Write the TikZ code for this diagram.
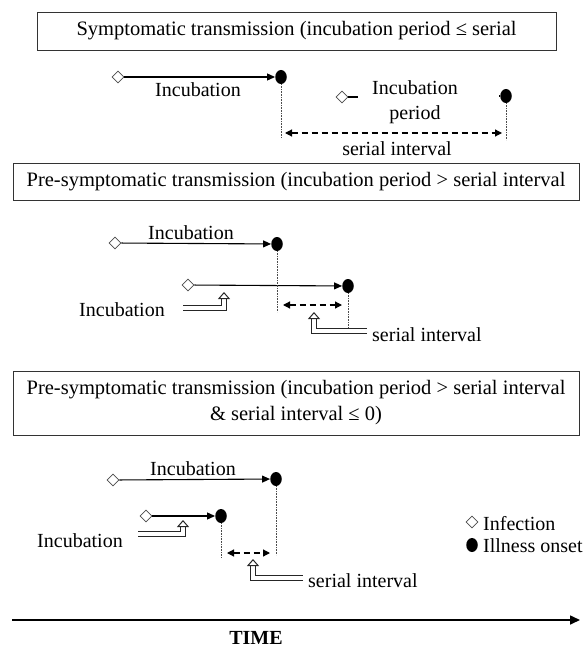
\documentclass[tikz,border=0pt]{standalone}
\usepackage{fontspec}
\setmainfont{Liberation Serif}
\usetikzlibrary{arrows.meta,shapes.geometric}
\begin{document}
\begin{tikzpicture}[x=1pt,y=-1pt,
  lbl/.style={font=\fontsize{20}{23}\selectfont, inner sep=0pt},
  titlebox/.style={draw=black!80, line width=0.9pt, font=\fontsize{20.5}{26}\selectfont, align=center, inner sep=0pt},
  inf/.style={diamond, draw=black!70, fill=white, line width=0.8pt, minimum width=12pt, minimum height=12pt, inner sep=0pt},
  ons/.style={ellipse, fill=black, minimum width=11.5pt, minimum height=14pt, inner sep=0pt},
  incarrow/.style={line width=1.1pt, -{Triangle[length=8pt,width=7pt]}},
  dotline/.style={densely dotted, line width=0.6pt, black!70},
  serarrow/.style={dash pattern=on 6pt off 4pt, line width=1.2pt, {Triangle[length=7pt,width=7pt]}-{Triangle[length=7pt,width=7pt]}},
  hollow/.style={double=white, draw=black!85, line width=1.4pt, double distance=3.4pt, -{Triangle[open,length=7pt,width=12pt,line width=1pt]}}
]
\useasboundingbox (0,0) rectangle (584,647);

% ---------- Section 1
\node[titlebox, minimum width=519pt, minimum height=38pt] (t1) at (296.5,31) {Symptomatic transmission (incubation period ≤ serial};
\node[inf] (d1) at (118,77) {};
\node[ons] (o1) at (281,77) {};
\draw[incarrow] (d1) -- (o1);
\node[lbl] (l1) at (198,90) {Incubation};
\node[inf] (d2) at (342,97) {};
\node[ons] (o2) at (506,96) {};
\coordinate (d2e) at (358,97);
\draw[line width=1.1pt] (d2) -- (d2e);
\coordinate (o2s) at (499,96);
\draw[line width=1.1pt] (o2s) -- (o2);
\node[lbl, align=center, font=\fontsize{20}{25}\selectfont] (l2) at (415,102) {Incubation\\period};
\coordinate (v1b) at (281,138);
\coordinate (v2b) at (506,140);
\draw[dotline] (o1) -- (v1b);
\draw[dotline] (o2) -- (v2b);
\coordinate (s1a) at (285,133);
\coordinate (s1b) at (502,133);
\draw[serarrow] (s1a) -- (s1b);
\node[lbl] (sl1) at (397,149) {serial interval};

% ---------- Section 2
\node[titlebox, minimum width=566pt, minimum height=37pt] (t2) at (296,181.5) {Pre-symptomatic transmission (incubation period > serial interval};
\node[inf] (d3) at (115,243) {};
\node[ons] (o3) at (277,244) {};
\draw[incarrow] (d3) -- (o3);
\node[lbl] (l3) at (191,233) {Incubation};
\node[inf] (d4) at (188,285) {};
\node[ons] (o4) at (348,286) {};
\draw[incarrow] (d4) -- (o4);
\coordinate (v3b) at (277,312);
\coordinate (v4b) at (348,328);
\draw[dotline] (o3) -- (v3b);
\draw[dotline] (o4) -- (v4b);
\coordinate (s2a) at (283,305);
\coordinate (s2b) at (342,305);
\draw[serarrow] (s2a) -- (s2b);
\node[lbl] (l4) at (122,310) {Incubation};
\coordinate (h1s) at (183,308);
\coordinate (h1c) at (224,308);
\coordinate (h1e) at (224,292);
\draw[hollow] (h1s) -- (h1c) -- (h1e);
\node[lbl, anchor=west] (sl2) at (372,335) {serial interval};
\coordinate (h2s) at (367,331);
\coordinate (h2c) at (314,331);
\coordinate (h2e) at (314,312);
\draw[hollow] (h2s) -- (h2c) -- (h2e);

% ---------- Section 3
\node[titlebox, minimum width=566pt, minimum height=64pt] (t3) at (296,403) {Pre-symptomatic transmission (incubation period > serial interval\\\& serial interval ≤ 0)};
\node[inf] (d5) at (113,480) {};
\node[ons] (o5) at (276,479) {};
\draw[incarrow] (d5) -- (o5);
\node[lbl] (l5) at (193,469) {Incubation};
\node[inf] (d6) at (146,516) {};
\node[ons] (o6) at (221,516) {};
\draw[incarrow] (d6) -- (o6);
\coordinate (v5b) at (276,555);
\coordinate (v6b) at (221,557);
\draw[dotline] (o5) -- (v5b);
\draw[dotline] (o6) -- (v6b);
\coordinate (s3a) at (227,553);
\coordinate (s3b) at (270,553);
\draw[serarrow] (s3a) -- (s3b);
\node[lbl] (l6) at (80,541) {Incubation};
\coordinate (h3s) at (138,534);
\coordinate (h3c) at (183,534);
\coordinate (h3e) at (183,520);
\draw[hollow] (h3s) -- (h3c) -- (h3e);
\node[lbl, anchor=west] (sl3) at (308,581) {serial interval};
\coordinate (h4s) at (303,578);
\coordinate (h4c) at (253,578);
\coordinate (h4e) at (253,559);
\draw[hollow] (h4s) -- (h4c) -- (h4e);

% legend
\node[inf] (ld) at (472,522) {};
\node[lbl, anchor=west] (ldl) at (483,524) {Infection};
\node[ons] (lo) at (472,545) {};
\node[lbl, anchor=west] (lol) at (483,546) {Illness onset};

% time axis
\coordinate (ta) at (12,620);
\coordinate (tb) at (580,620);
\draw[line width=1.6pt, -{Triangle[length=10pt,width=9pt]}] (ta) -- (tb);
\node[lbl, font=\bfseries\fontsize{20}{22}\selectfont, anchor=base] (time) at (256,644) {TIME};
\end{tikzpicture}
\end{document}
